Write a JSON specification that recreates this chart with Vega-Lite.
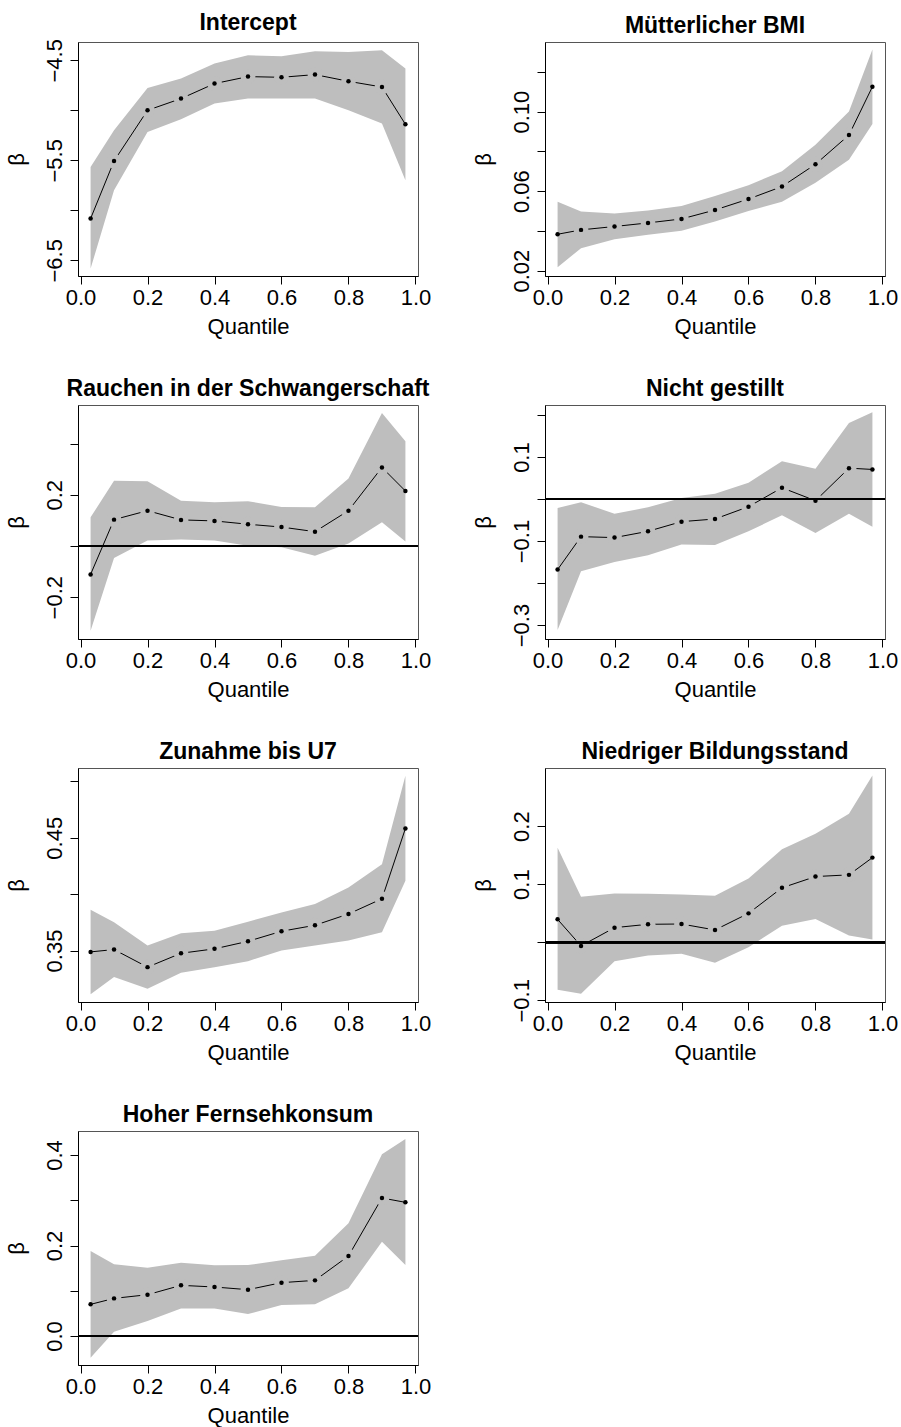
{
  "$schema": "https://vega.github.io/schema/vega-lite/v6.json",
  "background": "white",
  "padding": {"left": 4, "top": 11, "right": 0, "bottom": 0},
  "columns": 2,
  "bounds": "flush",
  "spacing": {"row": 129, "column": 127},
  "datasets": {
    "p1": [
      {"q": 0.03, "est": -6.083, "lo": -6.583, "hi": -5.567},
      {"q": 0.1, "est": -5.507, "lo": -5.8, "hi": -5.2},
      {"q": 0.2, "est": -5.0, "lo": -5.217, "hi": -4.777},
      {"q": 0.3, "est": -4.883, "lo": -5.09, "hi": -4.683},
      {"q": 0.4, "est": -4.733, "lo": -4.933, "hi": -4.533},
      {"q": 0.5, "est": -4.663, "lo": -4.883, "hi": -4.45},
      {"q": 0.6, "est": -4.67, "lo": -4.883, "hi": -4.46},
      {"q": 0.7, "est": -4.643, "lo": -4.883, "hi": -4.41},
      {"q": 0.8, "est": -4.71, "lo": -5.0, "hi": -4.417},
      {"q": 0.9, "est": -4.767, "lo": -5.133, "hi": -4.4},
      {"q": 0.97, "est": -5.14, "lo": -5.7, "hi": -4.583}
    ],
    "p2": [
      {"q": 0.03, "est": 0.0383, "lo": 0.0217, "hi": 0.0547},
      {"q": 0.1, "est": 0.0405, "lo": 0.0313, "hi": 0.0497},
      {"q": 0.2, "est": 0.0422, "lo": 0.0358, "hi": 0.0488},
      {"q": 0.3, "est": 0.044, "lo": 0.038, "hi": 0.0503},
      {"q": 0.4, "est": 0.046, "lo": 0.04, "hi": 0.0525},
      {"q": 0.5, "est": 0.0505, "lo": 0.0447, "hi": 0.0575},
      {"q": 0.6, "est": 0.056, "lo": 0.05, "hi": 0.063},
      {"q": 0.7, "est": 0.0623, "lo": 0.0547, "hi": 0.07},
      {"q": 0.8, "est": 0.0735, "lo": 0.0642, "hi": 0.0833},
      {"q": 0.9, "est": 0.0882, "lo": 0.0758, "hi": 0.1},
      {"q": 0.97, "est": 0.1125, "lo": 0.0938, "hi": 0.1312}
    ],
    "p3": [
      {"q": 0.03, "est": -0.111, "lo": -0.331, "hi": 0.112},
      {"q": 0.1, "est": 0.103, "lo": -0.047, "hi": 0.255},
      {"q": 0.2, "est": 0.138, "lo": 0.021, "hi": 0.253},
      {"q": 0.3, "est": 0.102, "lo": 0.025, "hi": 0.177},
      {"q": 0.4, "est": 0.098, "lo": 0.021, "hi": 0.171},
      {"q": 0.5, "est": 0.085, "lo": 0.001, "hi": 0.175},
      {"q": 0.6, "est": 0.074, "lo": -0.005, "hi": 0.152},
      {"q": 0.7, "est": 0.056, "lo": -0.038, "hi": 0.151},
      {"q": 0.8, "est": 0.138, "lo": 0.01, "hi": 0.264},
      {"q": 0.9, "est": 0.307, "lo": 0.0925, "hi": 0.52},
      {"q": 0.97, "est": 0.215, "lo": 0.018, "hi": 0.409}
    ],
    "p4": [
      {"q": 0.03, "est": -0.168, "lo": -0.312, "hi": -0.0214},
      {"q": 0.1, "est": -0.0895, "lo": -0.1718, "hi": -0.0079},
      {"q": 0.2, "est": -0.0918, "lo": -0.15, "hi": -0.0348},
      {"q": 0.3, "est": -0.0768, "lo": -0.1338, "hi": -0.0198},
      {"q": 0.4, "est": -0.0538, "lo": -0.1085, "hi": 0.0024},
      {"q": 0.5, "est": -0.0475, "lo": -0.1093, "hi": 0.0127},
      {"q": 0.6, "est": -0.0182, "lo": -0.0768, "hi": 0.0388},
      {"q": 0.7, "est": 0.0269, "lo": -0.0388, "hi": 0.0903},
      {"q": 0.8, "est": -0.004, "lo": -0.0808, "hi": 0.072},
      {"q": 0.9, "est": 0.0736, "lo": -0.0348, "hi": 0.181},
      {"q": 0.97, "est": 0.0705, "lo": -0.0657, "hi": 0.2067}
    ],
    "p5": [
      {"q": 0.03, "est": 0.3488, "lo": 0.3112, "hi": 0.3862},
      {"q": 0.1, "est": 0.3509, "lo": 0.3265, "hi": 0.375},
      {"q": 0.2, "est": 0.3353, "lo": 0.3162, "hi": 0.3544},
      {"q": 0.3, "est": 0.3476, "lo": 0.3303, "hi": 0.3653},
      {"q": 0.4, "est": 0.3515, "lo": 0.3353, "hi": 0.3676},
      {"q": 0.5, "est": 0.3582, "lo": 0.3406, "hi": 0.3756},
      {"q": 0.6, "est": 0.3671, "lo": 0.35, "hi": 0.3838},
      {"q": 0.7, "est": 0.3724, "lo": 0.3544, "hi": 0.3912},
      {"q": 0.8, "est": 0.3824, "lo": 0.3588, "hi": 0.4059},
      {"q": 0.9, "est": 0.3959, "lo": 0.3662, "hi": 0.4265},
      {"q": 0.97, "est": 0.4582, "lo": 0.4118, "hi": 0.505}
    ],
    "p6": [
      {"q": 0.03, "est": 0.0394, "lo": -0.0817, "hi": 0.1629},
      {"q": 0.1, "est": -0.0063, "lo": -0.0886, "hi": 0.0783},
      {"q": 0.2, "est": 0.0251, "lo": -0.0326, "hi": 0.084},
      {"q": 0.3, "est": 0.0309, "lo": -0.0229, "hi": 0.0834},
      {"q": 0.4, "est": 0.0314, "lo": -0.02, "hi": 0.0823},
      {"q": 0.5, "est": 0.0211, "lo": -0.0354, "hi": 0.08},
      {"q": 0.6, "est": 0.0497, "lo": -0.0086, "hi": 0.1097},
      {"q": 0.7, "est": 0.0937, "lo": 0.0286, "hi": 0.16},
      {"q": 0.8, "est": 0.1131, "lo": 0.04, "hi": 0.1869},
      {"q": 0.9, "est": 0.116, "lo": 0.0114, "hi": 0.2211},
      {"q": 0.97, "est": 0.1457, "lo": 0.0046, "hi": 0.2869}
    ],
    "p7": [
      {"q": 0.03, "est": 0.07, "lo": -0.0479, "hi": 0.1878},
      {"q": 0.1, "est": 0.0832, "lo": 0.0096, "hi": 0.1584},
      {"q": 0.2, "est": 0.0913, "lo": 0.0331, "hi": 0.151},
      {"q": 0.3, "est": 0.112, "lo": 0.0611, "hi": 0.162},
      {"q": 0.4, "est": 0.1083, "lo": 0.0611, "hi": 0.1562},
      {"q": 0.5, "est": 0.1024, "lo": 0.0486, "hi": 0.1569},
      {"q": 0.6, "est": 0.1179, "lo": 0.0685, "hi": 0.1672},
      {"q": 0.7, "est": 0.123, "lo": 0.07, "hi": 0.1775},
      {"q": 0.8, "est": 0.1768, "lo": 0.1053, "hi": 0.249},
      {"q": 0.9, "est": 0.305, "lo": 0.2085, "hi": 0.4015},
      {"q": 0.97, "est": 0.2954, "lo": 0.1569, "hi": 0.4354}
    ]
  },
  "concat": [
    {
      "title": "Intercept",
      "width": 340, "height": 234,
      "data": {"name": "p1"},
      "encoding": {
        "x": {"field": "q", "type": "quantitative", "title": "Quantile", "scale": {"domain": [-0.0076, 1.0076], "nice": false, "zero": false}, "axis": {"values": [0, 0.2, 0.4, 0.6, 0.8, 1], "format": ".1f"}}
      },
      "layer": [
        {"mark": {"type": "area", "color": "#BEBEBE", "opacity": 1}, "encoding": {"y": {"field": "lo", "type": "quantitative", "title": "β", "scale": {"domain": [-6.657, -4.317], "nice": false, "zero": false}, "axis": {"values": [-6.5, -6, -5.5, -5, -4.5], "format": ".1f", "labelExpr": "indexof([-6.5, -5.5, -4.5], datum.value) >= 0 ? datum.label : ''"}}, "y2": {"field": "hi"}}},
        {"mark": {"type": "line", "color": "black", "strokeWidth": 1}, "encoding": {"y": {"field": "est", "type": "quantitative", "title": "β"}}},
        {"transform": [{"filter": "datum.q > 0.05 && datum.q < 0.95"}], "mark": {"type": "point", "shape": "circle", "filled": true, "color": "#BEBEBE", "opacity": 1, "size": 220}, "encoding": {"y": {"field": "est", "type": "quantitative", "title": "β"}}},
        {"mark": {"type": "point", "shape": "circle", "filled": true, "color": "black", "opacity": 1, "size": 20}, "encoding": {"y": {"field": "est", "type": "quantitative", "title": "β"}}}
      ]
    },
    {
      "title": "Mütterlicher BMI",
      "width": 340, "height": 234,
      "data": {"name": "p2"},
      "encoding": {
        "x": {"field": "q", "type": "quantitative", "title": "Quantile", "scale": {"domain": [-0.0076, 1.0076], "nice": false, "zero": false}, "axis": {"values": [0, 0.2, 0.4, 0.6, 0.8, 1], "format": ".1f"}}
      },
      "layer": [
        {"mark": {"type": "area", "color": "#BEBEBE", "opacity": 1}, "encoding": {"y": {"field": "lo", "type": "quantitative", "title": "β", "scale": {"domain": [0.0173, 0.135], "nice": false, "zero": false}, "axis": {"values": [0.02, 0.04, 0.06, 0.08, 0.1, 0.12], "format": ".2f", "labelExpr": "indexof([0.02, 0.06, 0.1], datum.value) >= 0 ? datum.label : ''"}}, "y2": {"field": "hi"}}},
        {"mark": {"type": "line", "color": "black", "strokeWidth": 1}, "encoding": {"y": {"field": "est", "type": "quantitative", "title": "β"}}},
        {"transform": [{"filter": "datum.q > 0.05 && datum.q < 0.95"}], "mark": {"type": "point", "shape": "circle", "filled": true, "color": "#BEBEBE", "opacity": 1, "size": 220}, "encoding": {"y": {"field": "est", "type": "quantitative", "title": "β"}}},
        {"mark": {"type": "point", "shape": "circle", "filled": true, "color": "black", "opacity": 1, "size": 20}, "encoding": {"y": {"field": "est", "type": "quantitative", "title": "β"}}}
      ]
    },
    {
      "title": "Rauchen in der Schwangerschaft",
      "width": 340, "height": 234,
      "data": {"name": "p3"},
      "encoding": {
        "x": {"field": "q", "type": "quantitative", "title": "Quantile", "scale": {"domain": [-0.0076, 1.0076], "nice": false, "zero": false}, "axis": {"values": [0, 0.2, 0.4, 0.6, 0.8, 1], "format": ".1f"}}
      },
      "layer": [
        {"mark": {"type": "area", "color": "#BEBEBE", "opacity": 1}, "encoding": {"y": {"field": "lo", "type": "quantitative", "title": "β", "scale": {"domain": [-0.3635, 0.551], "nice": false, "zero": false}, "axis": {"values": [-0.2, 0, 0.2, 0.4], "format": ".1f", "labelExpr": "indexof([-0.2, 0.2], datum.value) >= 0 ? datum.label : ''"}}, "y2": {"field": "hi"}}},
        {"mark": {"type": "line", "color": "black", "strokeWidth": 1}, "encoding": {"y": {"field": "est", "type": "quantitative", "title": "β"}}},
        {"transform": [{"filter": "datum.q > 0.05 && datum.q < 0.95"}], "mark": {"type": "point", "shape": "circle", "filled": true, "color": "#BEBEBE", "opacity": 1, "size": 220}, "encoding": {"y": {"field": "est", "type": "quantitative", "title": "β"}}},
        {"mark": {"type": "point", "shape": "circle", "filled": true, "color": "black", "opacity": 1, "size": 20}, "encoding": {"y": {"field": "est", "type": "quantitative", "title": "β"}}},
        {"mark": {"type": "rule", "color": "black", "strokeWidth": 2}, "encoding": {"y": {"datum": 0, "type": "quantitative"}, "x": null}}
      ]
    },
    {
      "title": "Nicht gestillt",
      "width": 340, "height": 234,
      "data": {"name": "p4"},
      "encoding": {
        "x": {"field": "q", "type": "quantitative", "title": "Quantile", "scale": {"domain": [-0.0076, 1.0076], "nice": false, "zero": false}, "axis": {"values": [0, 0.2, 0.4, 0.6, 0.8, 1], "format": ".1f"}}
      },
      "layer": [
        {"mark": {"type": "area", "color": "#BEBEBE", "opacity": 1}, "encoding": {"y": {"field": "lo", "type": "quantitative", "title": "β", "scale": {"domain": [-0.3333, 0.224], "nice": false, "zero": false}, "axis": {"values": [-0.3, -0.2, -0.1, 0, 0.1, 0.2], "format": ".1f", "labelExpr": "indexof([-0.3, -0.1, 0.1], datum.value) >= 0 ? datum.label : ''"}}, "y2": {"field": "hi"}}},
        {"mark": {"type": "line", "color": "black", "strokeWidth": 1}, "encoding": {"y": {"field": "est", "type": "quantitative", "title": "β"}}},
        {"transform": [{"filter": "datum.q > 0.05 && datum.q < 0.95"}], "mark": {"type": "point", "shape": "circle", "filled": true, "color": "#BEBEBE", "opacity": 1, "size": 220}, "encoding": {"y": {"field": "est", "type": "quantitative", "title": "β"}}},
        {"mark": {"type": "point", "shape": "circle", "filled": true, "color": "black", "opacity": 1, "size": 20}, "encoding": {"y": {"field": "est", "type": "quantitative", "title": "β"}}},
        {"mark": {"type": "rule", "color": "black", "strokeWidth": 2}, "encoding": {"y": {"datum": 0, "type": "quantitative"}, "x": null}}
      ]
    },
    {
      "title": "Zunahme bis U7",
      "width": 340, "height": 234,
      "data": {"name": "p5"},
      "encoding": {
        "x": {"field": "q", "type": "quantitative", "title": "Quantile", "scale": {"domain": [-0.0076, 1.0076], "nice": false, "zero": false}, "axis": {"values": [0, 0.2, 0.4, 0.6, 0.8, 1], "format": ".1f"}}
      },
      "layer": [
        {"mark": {"type": "area", "color": "#BEBEBE", "opacity": 1}, "encoding": {"y": {"field": "lo", "type": "quantitative", "title": "β", "scale": {"domain": [0.3044, 0.5118], "nice": false, "zero": false}, "axis": {"values": [0.35, 0.4, 0.45, 0.5], "format": ".2f", "labelExpr": "indexof([0.35, 0.45], datum.value) >= 0 ? datum.label : ''"}}, "y2": {"field": "hi"}}},
        {"mark": {"type": "line", "color": "black", "strokeWidth": 1}, "encoding": {"y": {"field": "est", "type": "quantitative", "title": "β"}}},
        {"transform": [{"filter": "datum.q > 0.05 && datum.q < 0.95"}], "mark": {"type": "point", "shape": "circle", "filled": true, "color": "#BEBEBE", "opacity": 1, "size": 220}, "encoding": {"y": {"field": "est", "type": "quantitative", "title": "β"}}},
        {"mark": {"type": "point", "shape": "circle", "filled": true, "color": "black", "opacity": 1, "size": 20}, "encoding": {"y": {"field": "est", "type": "quantitative", "title": "β"}}}
      ]
    },
    {
      "title": "Niedriger Bildungsstand",
      "width": 340, "height": 234,
      "data": {"name": "p6"},
      "encoding": {
        "x": {"field": "q", "type": "quantitative", "title": "Quantile", "scale": {"domain": [-0.0076, 1.0076], "nice": false, "zero": false}, "axis": {"values": [0, 0.2, 0.4, 0.6, 0.8, 1], "format": ".1f"}}
      },
      "layer": [
        {"mark": {"type": "area", "color": "#BEBEBE", "opacity": 1}, "encoding": {"y": {"field": "lo", "type": "quantitative", "title": "β", "scale": {"domain": [-0.1029, 0.3], "nice": false, "zero": false}, "axis": {"values": [-0.1, 0, 0.1, 0.2], "format": ".1f", "labelExpr": "indexof([-0.1, 0.1, 0.2], datum.value) >= 0 ? datum.label : ''"}}, "y2": {"field": "hi"}}},
        {"mark": {"type": "line", "color": "black", "strokeWidth": 1}, "encoding": {"y": {"field": "est", "type": "quantitative", "title": "β"}}},
        {"transform": [{"filter": "datum.q > 0.05 && datum.q < 0.95"}], "mark": {"type": "point", "shape": "circle", "filled": true, "color": "#BEBEBE", "opacity": 1, "size": 220}, "encoding": {"y": {"field": "est", "type": "quantitative", "title": "β"}}},
        {"mark": {"type": "point", "shape": "circle", "filled": true, "color": "black", "opacity": 1, "size": 20}, "encoding": {"y": {"field": "est", "type": "quantitative", "title": "β"}}},
        {"mark": {"type": "rule", "color": "black", "strokeWidth": 2}, "encoding": {"y": {"datum": 0, "type": "quantitative"}, "x": null}}
      ]
    },
    {
      "title": "Hoher Fernsehkonsum",
      "width": 340, "height": 234,
      "data": {"name": "p7"},
      "encoding": {
        "x": {"field": "q", "type": "quantitative", "title": "Quantile", "scale": {"domain": [-0.0076, 1.0076], "nice": false, "zero": false}, "axis": {"values": [0, 0.2, 0.4, 0.6, 0.8, 1], "format": ".1f"}}
      },
      "layer": [
        {"mark": {"type": "area", "color": "#BEBEBE", "opacity": 1}, "encoding": {"y": {"field": "lo", "type": "quantitative", "title": "β", "scale": {"domain": [-0.064, 0.453], "nice": false, "zero": false}, "axis": {"values": [0, 0.1, 0.2, 0.3, 0.4], "format": ".1f", "labelExpr": "indexof([0, 0.2, 0.4], datum.value) >= 0 ? datum.label : ''"}}, "y2": {"field": "hi"}}},
        {"mark": {"type": "line", "color": "black", "strokeWidth": 1}, "encoding": {"y": {"field": "est", "type": "quantitative", "title": "β"}}},
        {"transform": [{"filter": "datum.q > 0.05 && datum.q < 0.95"}], "mark": {"type": "point", "shape": "circle", "filled": true, "color": "#BEBEBE", "opacity": 1, "size": 220}, "encoding": {"y": {"field": "est", "type": "quantitative", "title": "β"}}},
        {"mark": {"type": "point", "shape": "circle", "filled": true, "color": "black", "opacity": 1, "size": 20}, "encoding": {"y": {"field": "est", "type": "quantitative", "title": "β"}}},
        {"mark": {"type": "rule", "color": "black", "strokeWidth": 2}, "encoding": {"y": {"datum": 0, "type": "quantitative"}, "x": null}}
      ]
    }
  ],
  "config": {
    "font": "Liberation Sans",
    "view": {"stroke": "#555555", "strokeWidth": 1},
    "title": {"font": "Liberation Sans", "fontSize": 23, "fontWeight": "bold", "color": "black", "anchor": "middle", "baseline": "alphabetic", "offset": 0},
    "axis": {
      "labelFont": "Liberation Sans", "labelFontSize": 22, "labelColor": "black",
      "titleFont": "Liberation Sans", "titleFontSize": 22, "titleFontWeight": "normal", "titleColor": "black",
      "tickColor": "black", "tickSize": 8, "tickWidth": 1,
      "domainColor": "black", "domainWidth": 1, "grid": false,
      "labelFlush": false, "labelOverlap": false
    },
    "axisX": {"labelPadding": 3, "titlePadding": 8},
    "axisY": {"labelAngle": -90, "labelAlign": "center", "labelBaseline": "alphabetic", "labelPadding": 9, "titlePadding": 15}
  }
}
